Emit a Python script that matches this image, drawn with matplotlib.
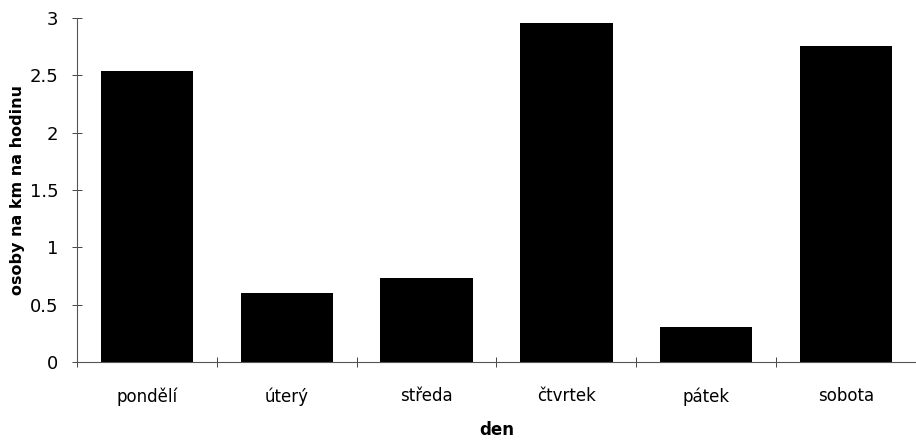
import numpy as np
from matplotlib import pyplot as plt

# data
dny = ["pondělí", "úterý", "středa", "čtvrtek", "pátek", "sobota"]
hodnoty = [2.54, 0.60, 0.73, 2.96, 0.31, 2.755]
y_ticks = [0, 0.5, 1, 1.5, 2, 2.5, 3]
y_tick_labels = ["0", "0.5", "1", "1.5", "2", "2.5", "3"]

plt.rcParams['font.family'] = ['DejaVu Sans']

fig = plt.figure(figsize=(9.16, 4.41), dpi=100)
ax = fig.add_axes([0.084, 0.179, 0.916, 0.78])

x = np.arange(len(dny))
ax.bar(x, hodnoty, width=0.66, color="black")

ax.set_xlim(-0.5, len(dny) - 0.5)
ax.set_ylim(0, 3)

# major ticks on category borders, labels at centres (minor)
ax.set_xticks(np.arange(len(dny) + 1) - 0.5)
ax.set_xticklabels([])
ax.set_xticks(x, minor=True)
ax.set_xticklabels(dny, minor=True, fontsize=12)
ax.tick_params(axis="x", which="minor", length=0, pad=18)
ax.tick_params(axis="x", which="major", direction="inout", length=7, width=0.7, color="#444")

ax.set_yticks(y_ticks)
ax.set_yticklabels(y_tick_labels, fontsize=13)
ax.tick_params(axis="y", direction="inout", length=7, width=0.7, color="#444", pad=10)

for s in ["top", "right"]:
    ax.spines[s].set_visible(False)
for s in ["left", "bottom"]:
    ax.spines[s].set_color("#555")
    ax.spines[s].set_linewidth(0.8)

ax.set_xlabel("den", fontsize=12, fontweight="bold", labelpad=11)
ax.set_ylabel("osoby na km na hodinu", fontsize=11.5, fontweight="bold", labelpad=3)

fig.savefig("out.png", dpi=100)
